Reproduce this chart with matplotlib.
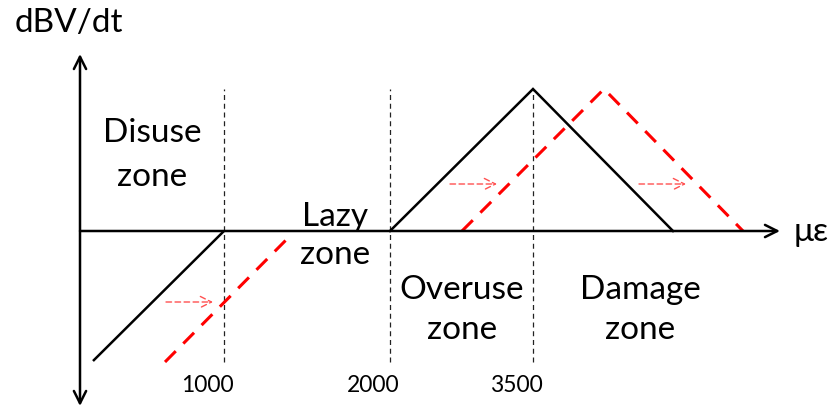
import matplotlib
matplotlib.use("Agg")
import matplotlib.pyplot as plt

# schematic units: x = strain position along the axis, y = dBV/dt (arbitrary)
disuse_x = [13, 144]
disuse_y = [-130, 0]
peak_x = [310, 453, 593]
peak_y = [0, 142, 0]

shift_disuse_x = [85, 211]
shift_disuse_y = [-131, -4]
shift_peak_x = [382, 524, 663]
shift_peak_y = [0, 142, 0]

threshold_x = [144, 310, 453]
threshold_labels = ["1000", "2000", "3500"]

shift_arrows = [(86, 133, -71), (370, 417, 47), (559, 606, 47)]

zones = [
    ("Disuse\nzone", 72, 77, 1.6),
    ("Lazy\nzone", 255, -4, 1.3),
    ("Overuse\nzone", 382, -78, 1.45),
    ("Damage\nzone", 560, -78, 1.45),
]

plt.rcParams["font.family"] = ["Lato", "DejaVu Sans"]

fig = plt.figure(figsize=(8.36, 4.10), dpi=100)
ax = fig.add_axes([0, 0, 1, 1])
ax.set_xlim(-80, 756)
ax.set_ylim(-178, 232)
ax.axis("off")

# axes with arrow heads
ax.annotate("", xy=(0, 177), xytext=(0, -175),
            arrowprops=dict(arrowstyle="<->", lw=1.8, color="black",
                            mutation_scale=22, shrinkA=0, shrinkB=0))
ax.annotate("", xy=(700, 0), xytext=(0, 0),
            arrowprops=dict(arrowstyle="->", lw=1.8, color="black",
                            mutation_scale=22, shrinkA=0, shrinkB=0))

# threshold lines
for xv, lab in zip(threshold_x, threshold_labels):
    ax.plot([xv, xv], [-131, 142], color="#222222", lw=0.9, ls=(0, (4, 3)), zorder=1)
    ax.text(xv - 17, -154, lab, ha="center", va="center", fontsize=16.5)

ax.plot(disuse_x, disuse_y, color="black", lw=1.8, solid_capstyle="butt")
ax.plot(peak_x, peak_y, color="black", lw=1.8, solid_joinstyle="miter")

ax.plot(shift_disuse_x, shift_disuse_y, color="#ff0000", lw=2.2, ls=(0, (5, 3.5)))
ax.plot(shift_peak_x, shift_peak_y, color="#ff0000", lw=2.2, ls=(0, (5, 3.5)),
        solid_joinstyle="miter")

for x0, x1, yv in shift_arrows:
    ax.annotate("", xy=(x1, yv), xytext=(x0, yv),
                arrowprops=dict(arrowstyle="->", lw=1.0, color="#ff5050",
                                ls=(0, (4, 2.5)), mutation_scale=20,
                                shrinkA=0, shrinkB=0))

for txt, xv, yv, sp in zones:
    ax.text(xv, yv, txt, ha="center", va="center", fontsize=24, linespacing=sp)

ax.text(-11, 209, "dBV/dt", ha="center", va="center", fontsize=24)
ax.text(731, 0, "με", ha="center", va="center", fontsize=24)

fig.savefig("out.png", dpi=100)
